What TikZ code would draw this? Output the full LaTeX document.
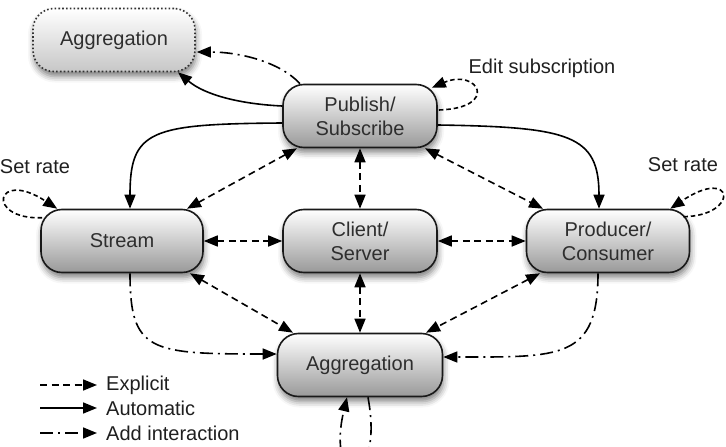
\documentclass[tikz,border=0pt]{standalone}
\usepackage{fontspec}
\setmainfont{Liberation Sans}
\usetikzlibrary{arrows.meta,shadows.blur,calc}
\definecolor{txt}{HTML}{2E2E2E}
\begin{document}
\begin{tikzpicture}[x=1pt,y=-1pt,
  tipA/.tip={Triangle[length=14pt,width=11pt]},
  box/.style={draw=black!90, line width=1.6pt, rounded corners=21pt,
    minimum width=162pt, minimum height=63pt, top color=white, bottom color=black!40,
    align=center, text=txt, font=\fontsize{20}{24}\selectfont, inner sep=2pt,
    blur shadow={shadow xshift=1pt, shadow yshift=-5pt, shadow blur radius=6pt, shadow opacity=50}},
  ghost/.style={box, dash pattern=on 1.6pt off 2.2pt, bottom color=black!22, draw=black!80},
  lbl/.style={font=\fontsize{20}{24}\selectfont, text=black!88, inner sep=0pt},
  expl/.style={line width=1.6pt, dash pattern=on 7pt off 4.5pt, tipA-tipA},
  expone/.style={line width=1.6pt, dash pattern=on 4.5pt off 3pt, -tipA},
  autom/.style={line width=1.6pt, -tipA},
  addint/.style={line width=1.6pt, dash pattern=on 13pt off 5pt on 2pt off 5pt, -tipA},
]
\useasboundingbox (0,0) rectangle (726,447);
\clip (0,0) rectangle (726,447);

% nodes
\node[ghost] (aggtop) at (114,40) {Aggregation};
\node[box, minimum width=154pt] (pub) at (360,116) {Publish/\\Subscribe};
\node[box] (stream) at (122,241) {Stream};
\node[box, minimum width=154pt] (client) at (360,241) {Client/\\Server};
\node[box, minimum width=163pt] (prod) at (608,241) {Producer/\\Consumer};
\node[box, minimum width=165pt] (agg) at (360,365) {Aggregation};

% labels
\node[lbl] (ledit) at (542,68) {Edit subscription};
\node[lbl] (lrate1) at (35,167) {Set rate};
\node[lbl] (lrate2) at (683,165) {Set rate};

% publish/subscribe to top aggregation
\draw[autom] ($(pub.west)+(0,-10)$) .. controls (240,104) and (205,95) .. ($(aggtop.south)+(64,0)$);
\draw[addint] ($(pub.north)+(-60,0)$) .. controls (280,62) and (240,52) .. ($(aggtop.east)+(1,12)$);

% automatic
\draw[autom] ($(pub.west)+(0,7)$) .. controls (150,124) and (130,130) .. ($(stream.north)+(8,0)$);
\draw[autom] ($(pub.east)+(0,9)$) .. controls (570,127) and (599,135) .. ($(prod.north)+(-9,0)$);

% explicit
\draw[expl] ($(pub.south)+(-63,0)$) -- ($(stream.north)+(65,0)$);
\draw[expl] ($(pub.south)+(65,0)$) -- ($(prod.north)+(-65,0)$);
\draw[expl] (pub.south) -- (client.north);
\draw[expl] (stream.east) -- (client.west);
\draw[expl] (client.east) -- (prod.west);
\draw[expl] (client.south) -- (agg.north);
\draw[expl] ($(stream.south)+(68,0)$) -- ($(agg.north)+(-67,0)$);
\draw[expl] ($(prod.south)+(-68,0)$) -- ($(agg.north)+(66,0)$);

% add interaction
\draw[addint] ($(stream.south)+(8,0)$) .. controls (130,352) and (150,354) .. ($(agg.west)+(0,-11)$);
\draw[addint] ($(prod.south)+(-10,0)$) .. controls (598,360) and (560,357) .. ($(agg.east)+(0,-8)$);
\draw[addint] ($(agg.south)+(8,0)$) .. controls (385,490) and (325,490) .. ($(agg.south)+(-13,0)$);

% self loops
\draw[expone] ($(pub.east)+(1,-6)$) .. controls (500,108) and (478,68) .. ($(pub.north east)+(-6,4)$);
\draw[expone] ($(stream.north west)+(2,9)$) .. controls (-15,220) and (-5,168) .. ($(stream.north west)+(17,0)$);
\draw[expone] ($(prod.north east)+(-7,8)$) .. controls (740,216) and (735,165) .. ($(prod.north east)+(-20,0)$);

% legend
\coordinate (k1) at (40,385);
\coordinate (k2) at (40,408);
\coordinate (k3) at (40,433);
\node[lbl, anchor=west, inner xsep=9pt] (t1) at (97,385) {Explicit};
\node[lbl, anchor=west, inner xsep=9pt] (t2) at (97,408) {Automatic};
\node[lbl, anchor=west, inner xsep=9pt] (t3) at (97,433) {Add interaction};
\draw[expone, dash pattern=on 7pt off 4.5pt] (k1) -- (t1.west);
\draw[autom] (k2) -- (t2.west);
\draw[addint] (k3) -- (t3.west);
\end{tikzpicture}
\end{document}
